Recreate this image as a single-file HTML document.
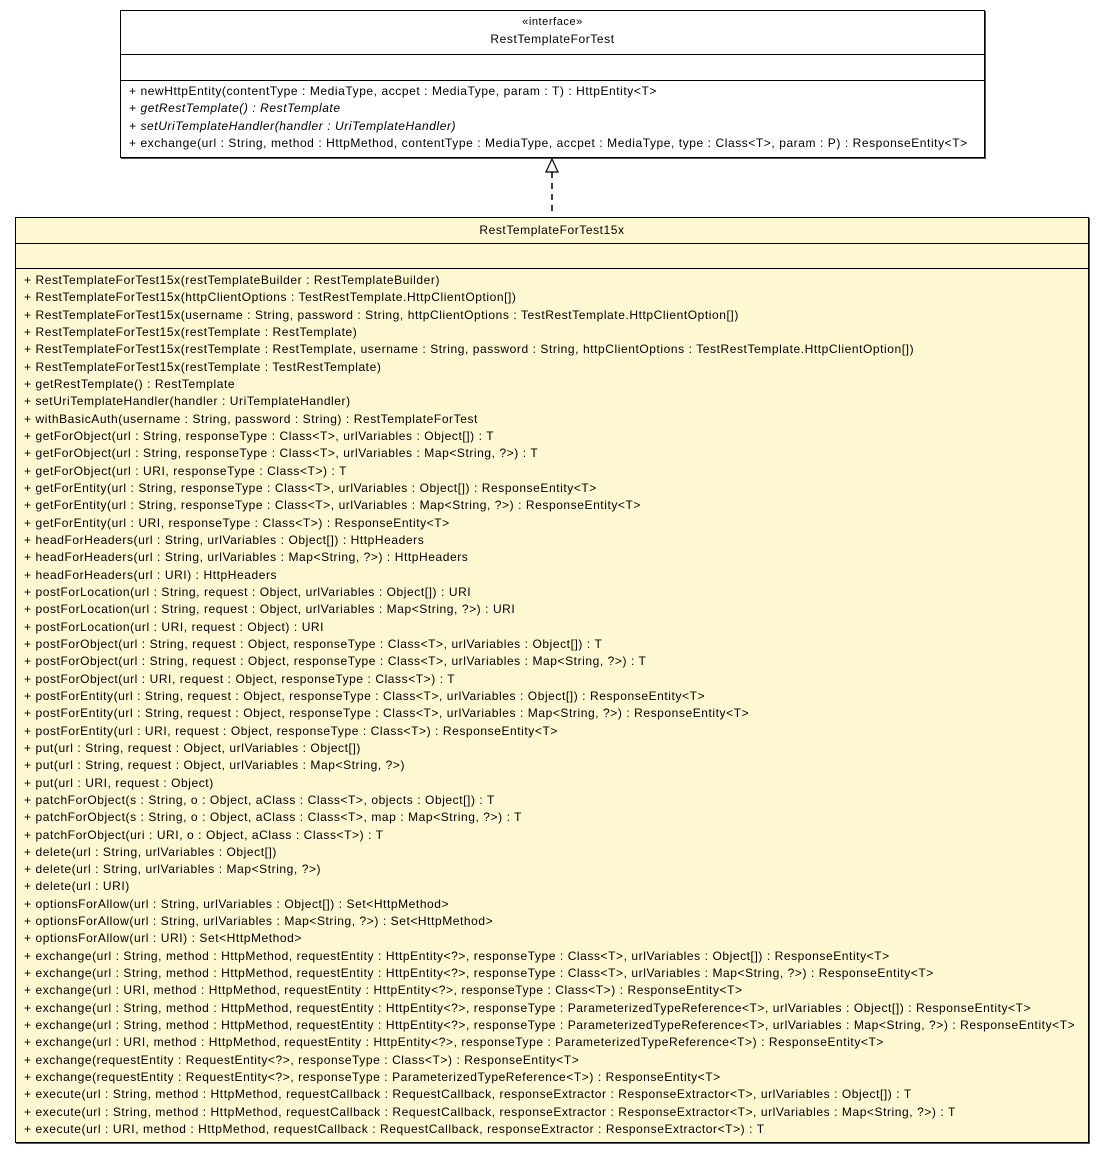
<!DOCTYPE html>
<html><head><meta charset="utf-8"><style>
html,body{margin:0;padding:0;background:#fff;width:1104px;height:1155px;overflow:hidden}
body{position:relative;font-family:"Liberation Sans",Arial,sans-serif;font-size:12px;color:#000;letter-spacing:0.57px}
.box{position:absolute;border:1px solid #000;box-shadow:1px 1px 0 #555;box-sizing:border-box}
.sep{position:absolute;left:0;right:0;border-top:1px solid #000}
.t{position:absolute;left:0;right:0;text-align:center;white-space:nowrap}
.m{position:absolute;left:8px;white-space:nowrap;line-height:17.33px}
i{font-style:italic}
</style></head><body>
<div class="box" style="left:120px;top:10px;width:865px;height:148px;background:#fff">
  <div class="t" style="top:5px;font-size:11px">«interface»</div>
  <div class="t" style="top:21px">RestTemplateForTest</div>
  <div class="sep" style="top:43px"></div>
  <div class="sep" style="top:69px"></div>
  <div class="m" style="top:72px">+ newHttpEntity(contentType : MediaType, accpet : MediaType, param : T) : HttpEntity&lt;T&gt;<br><i>+ getRestTemplate() : RestTemplate</i><br><i>+ setUriTemplateHandler(handler : UriTemplateHandler)</i><br>+ exchange(url : String, method : HttpMethod, contentType : MediaType, accpet : MediaType, type : Class&lt;T&gt;, param : P) : ResponseEntity&lt;T&gt;</div>
</div>
<svg style="position:absolute;left:0;top:0" width="1104" height="220">
  <line x1="552" y1="172" x2="552" y2="216" stroke="#000" stroke-width="1.5" stroke-dasharray="6,5"/>
  <polygon points="552,159 546,172 558,172" fill="#fff" stroke="#000" stroke-width="1.2"/>
</svg>
<div class="box" style="left:15px;top:217px;width:1074px;height:926px;background:#fef8d2">
  <div class="t" style="top:5px">RestTemplateForTest15x</div>
  <div class="sep" style="top:25px"></div>
  <div class="sep" style="top:50px"></div>
  <div class="m" style="top:54px">+ RestTemplateForTest15x(restTemplateBuilder : RestTemplateBuilder)<br>
+ RestTemplateForTest15x(httpClientOptions : TestRestTemplate.HttpClientOption[])<br>
+ RestTemplateForTest15x(username : String, password : String, httpClientOptions : TestRestTemplate.HttpClientOption[])<br>
+ RestTemplateForTest15x(restTemplate : RestTemplate)<br>
+ RestTemplateForTest15x(restTemplate : RestTemplate, username : String, password : String, httpClientOptions : TestRestTemplate.HttpClientOption[])<br>
+ RestTemplateForTest15x(restTemplate : TestRestTemplate)<br>
+ getRestTemplate() : RestTemplate<br>
+ setUriTemplateHandler(handler : UriTemplateHandler)<br>
+ withBasicAuth(username : String, password : String) : RestTemplateForTest<br>
+ getForObject(url : String, responseType : Class&lt;T&gt;, urlVariables : Object[]) : T<br>
+ getForObject(url : String, responseType : Class&lt;T&gt;, urlVariables : Map&lt;String, ?&gt;) : T<br>
+ getForObject(url : URI, responseType : Class&lt;T&gt;) : T<br>
+ getForEntity(url : String, responseType : Class&lt;T&gt;, urlVariables : Object[]) : ResponseEntity&lt;T&gt;<br>
+ getForEntity(url : String, responseType : Class&lt;T&gt;, urlVariables : Map&lt;String, ?&gt;) : ResponseEntity&lt;T&gt;<br>
+ getForEntity(url : URI, responseType : Class&lt;T&gt;) : ResponseEntity&lt;T&gt;<br>
+ headForHeaders(url : String, urlVariables : Object[]) : HttpHeaders<br>
+ headForHeaders(url : String, urlVariables : Map&lt;String, ?&gt;) : HttpHeaders<br>
+ headForHeaders(url : URI) : HttpHeaders<br>
+ postForLocation(url : String, request : Object, urlVariables : Object[]) : URI<br>
+ postForLocation(url : String, request : Object, urlVariables : Map&lt;String, ?&gt;) : URI<br>
+ postForLocation(url : URI, request : Object) : URI<br>
+ postForObject(url : String, request : Object, responseType : Class&lt;T&gt;, urlVariables : Object[]) : T<br>
+ postForObject(url : String, request : Object, responseType : Class&lt;T&gt;, urlVariables : Map&lt;String, ?&gt;) : T<br>
+ postForObject(url : URI, request : Object, responseType : Class&lt;T&gt;) : T<br>
+ postForEntity(url : String, request : Object, responseType : Class&lt;T&gt;, urlVariables : Object[]) : ResponseEntity&lt;T&gt;<br>
+ postForEntity(url : String, request : Object, responseType : Class&lt;T&gt;, urlVariables : Map&lt;String, ?&gt;) : ResponseEntity&lt;T&gt;<br>
+ postForEntity(url : URI, request : Object, responseType : Class&lt;T&gt;) : ResponseEntity&lt;T&gt;<br>
+ put(url : String, request : Object, urlVariables : Object[])<br>
+ put(url : String, request : Object, urlVariables : Map&lt;String, ?&gt;)<br>
+ put(url : URI, request : Object)<br>
+ patchForObject(s : String, o : Object, aClass : Class&lt;T&gt;, objects : Object[]) : T<br>
+ patchForObject(s : String, o : Object, aClass : Class&lt;T&gt;, map : Map&lt;String, ?&gt;) : T<br>
+ patchForObject(uri : URI, o : Object, aClass : Class&lt;T&gt;) : T<br>
+ delete(url : String, urlVariables : Object[])<br>
+ delete(url : String, urlVariables : Map&lt;String, ?&gt;)<br>
+ delete(url : URI)<br>
+ optionsForAllow(url : String, urlVariables : Object[]) : Set&lt;HttpMethod&gt;<br>
+ optionsForAllow(url : String, urlVariables : Map&lt;String, ?&gt;) : Set&lt;HttpMethod&gt;<br>
+ optionsForAllow(url : URI) : Set&lt;HttpMethod&gt;<br>
+ exchange(url : String, method : HttpMethod, requestEntity : HttpEntity&lt;?&gt;, responseType : Class&lt;T&gt;, urlVariables : Object[]) : ResponseEntity&lt;T&gt;<br>
+ exchange(url : String, method : HttpMethod, requestEntity : HttpEntity&lt;?&gt;, responseType : Class&lt;T&gt;, urlVariables : Map&lt;String, ?&gt;) : ResponseEntity&lt;T&gt;<br>
+ exchange(url : URI, method : HttpMethod, requestEntity : HttpEntity&lt;?&gt;, responseType : Class&lt;T&gt;) : ResponseEntity&lt;T&gt;<br>
+ exchange(url : String, method : HttpMethod, requestEntity : HttpEntity&lt;?&gt;, responseType : ParameterizedTypeReference&lt;T&gt;, urlVariables : Object[]) : ResponseEntity&lt;T&gt;<br>
+ exchange(url : String, method : HttpMethod, requestEntity : HttpEntity&lt;?&gt;, responseType : ParameterizedTypeReference&lt;T&gt;, urlVariables : Map&lt;String, ?&gt;) : ResponseEntity&lt;T&gt;<br>
+ exchange(url : URI, method : HttpMethod, requestEntity : HttpEntity&lt;?&gt;, responseType : ParameterizedTypeReference&lt;T&gt;) : ResponseEntity&lt;T&gt;<br>
+ exchange(requestEntity : RequestEntity&lt;?&gt;, responseType : Class&lt;T&gt;) : ResponseEntity&lt;T&gt;<br>
+ exchange(requestEntity : RequestEntity&lt;?&gt;, responseType : ParameterizedTypeReference&lt;T&gt;) : ResponseEntity&lt;T&gt;<br>
+ execute(url : String, method : HttpMethod, requestCallback : RequestCallback, responseExtractor : ResponseExtractor&lt;T&gt;, urlVariables : Object[]) : T<br>
+ execute(url : String, method : HttpMethod, requestCallback : RequestCallback, responseExtractor : ResponseExtractor&lt;T&gt;, urlVariables : Map&lt;String, ?&gt;) : T<br>
+ execute(url : URI, method : HttpMethod, requestCallback : RequestCallback, responseExtractor : ResponseExtractor&lt;T&gt;) : T</div>
</div>
</body></html>
